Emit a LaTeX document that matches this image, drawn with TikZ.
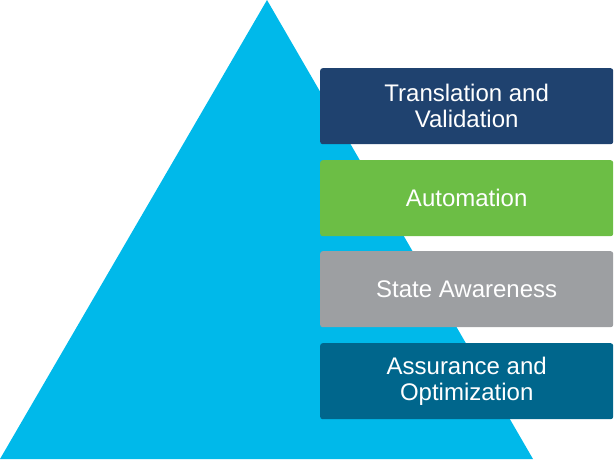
\documentclass[tikz,border=0pt]{standalone}
\usepackage{fontspec}
\setmainfont{Liberation Sans}
\definecolor{pyramid}{HTML}{00B9EA}
\definecolor{navy}{HTML}{1F426F}
\definecolor{leaf}{HTML}{6CBE45}
\definecolor{stone}{HTML}{9D9FA2}
\definecolor{teal}{HTML}{00668C}
\begin{document}
\begin{tikzpicture}[x=1pt,y=-1pt,
  layer/.style={rounded corners=2.5pt, minimum width=293pt, minimum height=76pt,
    inner sep=0pt, text=white, align=center, font=\fontsize{24}{26}\selectfont,
    anchor=north west}]
\useasboundingbox (0,0) rectangle (614,459);
% pyramid
\fill[pyramid] (267,0) -- (533,459) -- (0,459) -- cycle;
% stacked layers
\node[layer, fill=navy]  (trans) at (320,68)  {Translation and\\Validation};
\node[layer, fill=leaf]  (auto)  at (320,160) {Automation};
\node[layer, fill=stone] (state) at (320,251) {State Awareness};
\node[layer, fill=teal]  (assur) at (320,343) {Assurance and\\Optimization};
\end{tikzpicture}
\end{document}
